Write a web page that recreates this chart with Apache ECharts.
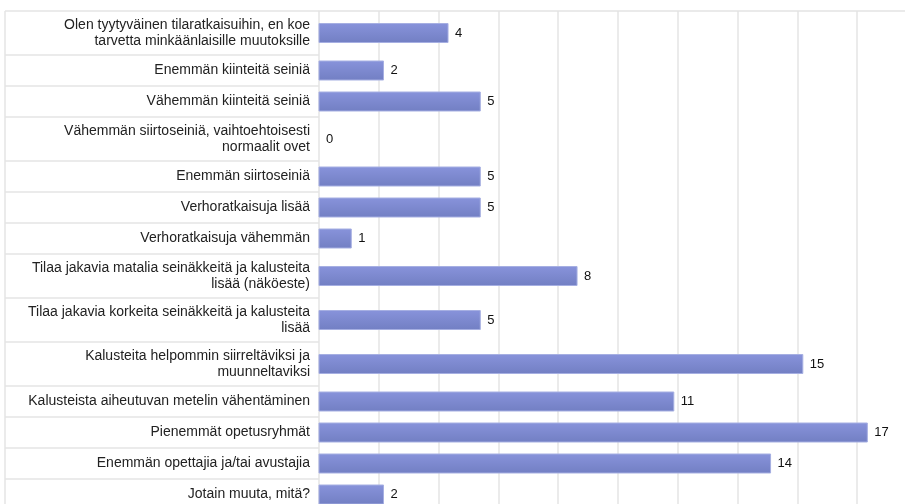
<!DOCTYPE html>
<html>
<head>
<meta charset="utf-8">
<script src="https://cdn.jsdelivr.net/npm/echarts@6/dist/echarts.min.js"></script>
<style>
  html, body { margin: 0; padding: 0; background: #fff; }
  #chart { width: 905px; height: 504px; }
</style>
</head>
<body>
<div id="chart"></div>
<script>
const categories = [
    "Olen tyytyväinen tilaratkaisuihin, en koe\ntarvetta minkäänlaisille muutoksille",
    "Enemmän kiinteitä seiniä",
    "Vähemmän kiinteitä seiniä",
    "Vähemmän siirtoseiniä, vaihtoehtoisesti\nnormaalit ovet",
    "Enemmän siirtoseiniä",
    "Verhoratkaisuja lisää",
    "Verhoratkaisuja vähemmän",
    "Tilaa jakavia matalia seinäkkeitä ja kalusteita\nlisää (näköeste)",
    "Tilaa jakavia korkeita seinäkkeitä ja kalusteita\nlisää",
    "Kalusteita helpommin siirreltäviksi ja\nmuunneltaviksi",
    "Kalusteista aiheutuvan metelin vähentäminen",
    "Pienemmät opetusryhmät",
    "Enemmän opettajia ja/tai avustajia",
    "Jotain muuta, mitä?"
];
const answers = [4, 2, 5, 0, 5, 5, 1, 8, 5, 15, 11, 17, 14, 2];

// rows are taller when the label wraps to two lines
const rows = [];
let pos = 0;
categories.forEach((c, i) => {
    const lines = c.split("\n").length;
    const h = 18 + 13 * lines;
    rows.push([answers[i], pos, pos + h, i]);
    pos += h;
});
const total = pos;

const gridStep = 1.854;

const initChart = () => {
    const chart = echarts.init(document.getElementById("chart"));
    const option = {
        animation: false,
        // the plot runs past the right and bottom edges of the picture
        grid: { left: 319, top: 11, width: 598, height: total, outerBoundsMode: "none" },
        xAxis: {
            type: "value",
            position: "top",
            min: 0,
            max: gridStep * 10,
            interval: gridStep,
            axisLine: { show: true, lineStyle: { color: "#e4e4e4", width: 1.5 } },
            axisTick: { show: false },
            axisLabel: { show: false },
            splitLine: { lineStyle: { color: "#ebebeb", width: 2 } }
        },
        yAxis: {
            type: "value",
            inverse: true,
            min: 0,
            max: total,
            show: false,
            splitLine: { show: false }
        },
        series: [{
            type: "custom",
            data: rows,
            encode: { x: 0, y: [1, 2] },
            clip: false,
            renderItem: (params, api) => {
                const v = api.value(0);
                const i = api.value(3);
                const top = api.coord([0, api.value(1)]);
                const bot = api.coord([0, api.value(2)]);
                const end = api.coord([v, api.value(1)]);
                const mid = (top[1] + bot[1]) / 2;
                const children = [
                    { type: "line", shape: { x1: 5, y1: top[1], x2: top[0], y2: top[1] },
                      style: { stroke: "#e4e4e4", lineWidth: 1.5 } },
                    { type: "line", shape: { x1: 5, y1: top[1], x2: 5, y2: bot[1] },
                      style: { stroke: "#e4e4e4", lineWidth: 1.5 } },
                    { type: "text", x: top[0] - 9, y: mid,
                      style: { text: categories[i], align: "right", verticalAlign: "middle",
                               font: "14px 'Liberation Sans', Arial, sans-serif", fill: "#222",
                               lineHeight: 16 } },
                    { type: "text", x: end[0] + 7, y: mid,
                      style: { text: String(v), align: "left", verticalAlign: "middle",
                               font: "13px 'Liberation Sans', Arial, sans-serif", fill: "#111" } }
                ];
                if (v > 0) {
                    children.push({
                        type: "rect",
                        shape: { x: top[0], y: mid - 9.5, width: end[0] - top[0], height: 19 },
                        style: {
                            fill: new echarts.graphic.LinearGradient(0, 0, 0, 1, [
                                { offset: 0, color: "#8893db" },
                                { offset: 1, color: "#727fc3" }
                            ]),
                            stroke: "#a6afe2",
                            lineWidth: 1
                        }
                    });
                }
                return { type: "group", children: children };
            }
        }]
    };
    chart.setOption(option);
};

window.addEventListener("load", () => {
    initChart();
});
</script>
</body>
</html>
